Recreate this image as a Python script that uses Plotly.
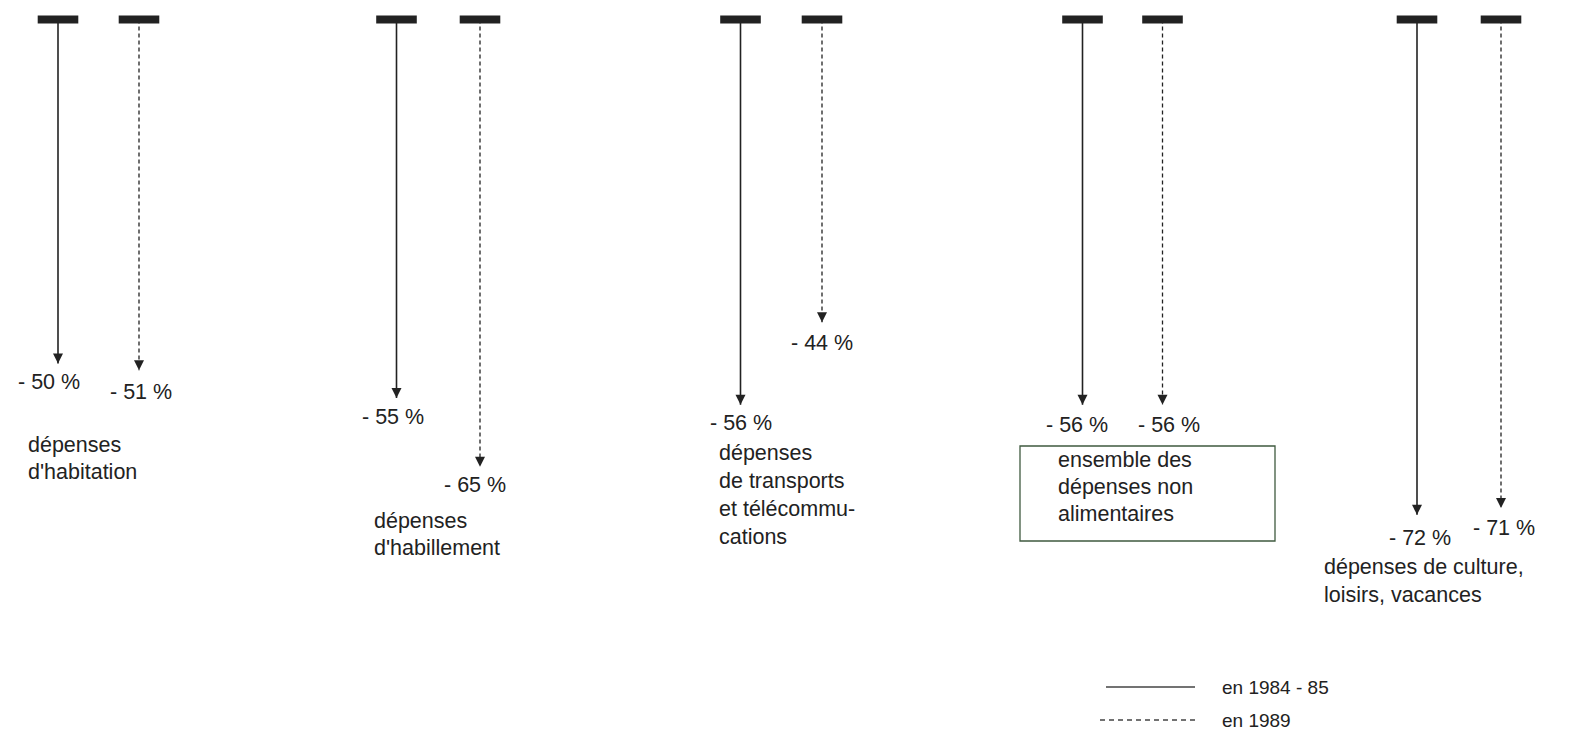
import plotly.graph_objects as go

# ---- data ----
categories = [
    "dépenses<br>d'habitation",
    "dépenses<br>d'habillement",
    "dépenses<br>de transports<br>et télécommu-<br>cations",
    "ensemble des<br>dépenses non<br>alimentaires",
    "dépenses de culture,<br>loisirs, vacances",
]
values_1984_85 = [-50, -55, -56, -56, -72]
values_1989 = [-51, -65, -44, -56, -71]
series_names = ["en 1984 - 85", "en 1989"]

# ---- layout (pixel positions, styles) ----
W, H = 1572, 746
INK = "#222222"
FONT = "Liberation Sans"
FS = 21.5
group_x = [98.5, 438.25, 781.25, 1122.5, 1459]
pair_off = [[-40.5, -41.75, -40.75, -40, -42], [40.5, 41.75, 40.75, 40, 42]]

def px(x):
    return x / W

def py(y):
    return 1 - y / H

fig = go.Figure()

series = [(values_1984_85, "solid", 1.6), (values_1989, "4px,3px", 1.3)]
annotations = []
shapes = []

lbl_dx = [[-9.5, -4, 0, -6, 3], [1.7, -5, 0, 6, 3]]
lbl_dy = [[-19, -19, -18.2, -20.2, -23], [-22, -18.3, -21, -20.2, -20]]

for s, (vals, dash, lw) in enumerate(series):
    for i, v in enumerate(vals):
        x = group_x[i] + pair_off[s][i]
        fig.add_trace(go.Scatter(
            x=[x, x], y=[0, v], mode="lines",
            line=dict(color=INK, width=lw, dash=dash),
            showlegend=False, hoverinfo="skip"))
        fig.add_trace(go.Scatter(
            x=[x], y=[0], mode="markers",
            marker=dict(symbol="line-ew", size=29, line=dict(width=8, color=INK)),
            showlegend=False, hoverinfo="skip"))
        fig.add_trace(go.Scatter(
            x=[x], y=[v], mode="markers",
            marker=dict(symbol="arrow-down", size=10, color=INK,
                        line=dict(width=0)),
            showlegend=False, hoverinfo="skip"))
        annotations.append(dict(
            x=x, y=v, xref="x", yref="y", text=f"- {abs(v)} %",
            showarrow=False, xshift=lbl_dx[s][i], yshift=lbl_dy[s][i],
            font=dict(family=FONT, size=FS, color=INK)))

# category labels: left edge, first line centre, line spacing (px)
cat_left = [26, 372, 717, 1056, 1322]
cat_first = [445, 521, 453, 460, 567]
cat_lh = [27, 27, 28, 27, 28]
for i, c in enumerate(categories):
    for k, line in enumerate(c.split("<br>")):
        annotations.append(dict(
            x=px(cat_left[i]), y=py(cat_first[i] + k * cat_lh[i]),
            xref="paper", yref="paper", xanchor="left", yanchor="middle",
            text=line, showarrow=False,
            font=dict(family=FONT, size=FS, color=INK)))

shapes.append(dict(type="rect", xref="paper", yref="paper",
                   x0=px(1020), x1=px(1275), y0=py(541), y1=py(446),
                   line=dict(color="#3f5a3f", width=1.3)))

leg = [(1106, 687, "solid"), (1100, 720, "5px,4px")]
for (x0, y, d), name in zip(leg, series_names):
    shapes.append(dict(type="line", xref="paper", yref="paper",
                       x0=px(x0), x1=px(1195), y0=py(y), y1=py(y),
                       line=dict(color="#444444", width=1.4, dash=d)))
    annotations.append(dict(x=px(1220), y=py(y), xref="paper", yref="paper",
                            xanchor="left", yanchor="middle", text=name,
                            showarrow=False,
                            font=dict(family=FONT, size=19, color=INK)))

fig.update_layout(
    width=W, height=H,
    margin=dict(l=0, r=0, t=0, b=0),
    paper_bgcolor="white", plot_bgcolor="white",
    xaxis=dict(range=[0, W], visible=False, fixedrange=True),
    yaxis=dict(range=[-105.6, 2.834], visible=False, fixedrange=True),
    annotations=annotations, shapes=shapes, showlegend=False,
)

fig.write_html(
    "out.html",
    config={"displayModeBar": False},
    post_script="document.body.style.margin='0';document.body.style.overflow='hidden';",
)
